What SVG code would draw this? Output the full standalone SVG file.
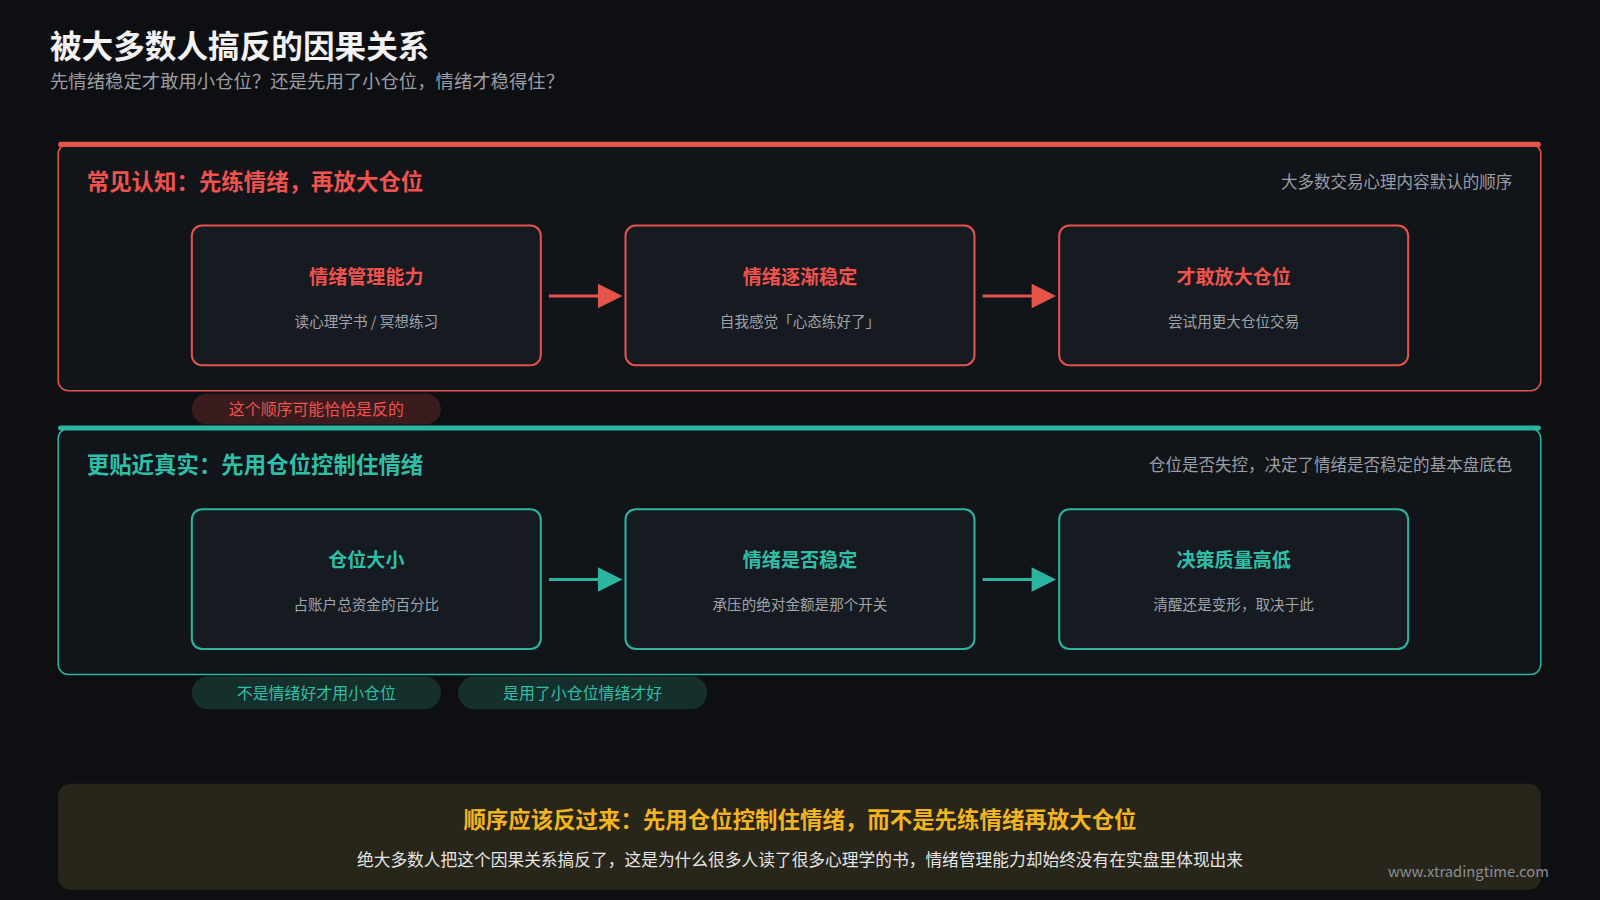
<svg xmlns="http://www.w3.org/2000/svg" width="1600" height="900" viewBox="0 0 1600 900">
<style>
text{font-family:"Noto Sans CJK SC","Noto Sans",sans-serif}
.box{fill:#161a21;stroke-width:2}
.r{stroke:#e5534b}.t{stroke:#2bb5a0}
.bt{font-size:18.7px;font-weight:bold;text-anchor:middle}
.bs{font-size:14.3px;fill:#a0a4ab;text-anchor:middle}
.rc{fill:#f0524d}.tc{fill:#2fbfa8}
.pill{font-size:15.6px;text-anchor:middle}
</style>
<rect width="1600" height="900" fill="#0e0f13"/>
<g transform="scale(1.0204)">
<text x="49" y="57" font-size="31" font-weight="bold" fill="#f2f2f2">被大多数人搞反的因果关系</text>
<text x="49" y="86" font-size="18" fill="#9a9ea5">先情绪稳定才敢用小仓位？还是先用了小仓位，情绪才稳得住？</text>

<g id="panel-red">
<rect x="57" y="141" width="1453" height="242" rx="10" fill="#111419" stroke="#e5534b" stroke-width="1.5"/>
<rect x="57" y="139" width="1453" height="5" rx="2" fill="#e5534b"/>
<text x="85" y="186" font-size="22" font-weight="bold" class="rc">常见认知：先练情绪，再放大仓位</text>
<text x="1482" y="184" font-size="16.2" fill="#9a9ea5" text-anchor="end">大多数交易心理内容默认的顺序</text>
</g>
<g id="r1"><rect class="box r" x="188" y="221" width="342" height="137" rx="10"/><text class="bt rc" x="359" y="278">情绪管理能力</text><text class="bs" x="359" y="320">读心理学书 / 冥想练习</text></g>
<g id="r2"><rect class="box r" x="613" y="221" width="342" height="137" rx="10"/><text class="bt rc" x="784" y="278">情绪逐渐稳定</text><text class="bs" x="784" y="320">自我感觉「心态练好了」</text></g>
<g id="r3"><rect class="box r" x="1038" y="221" width="342" height="137" rx="10"/><text class="bt rc" x="1209" y="278">才敢放大仓位</text><text class="bs" x="1209" y="320">尝试用更大仓位交易</text></g>
<g id="pill-r"><rect x="188" y="386" width="244" height="30" rx="15" fill="#3a1c1e"/><text x="310" y="407" class="pill rc">这个顺序可能恰恰是反的</text></g>

<g id="panel-teal">
<rect x="57" y="420" width="1453" height="241" rx="10" fill="#111419" stroke="#2bb5a0" stroke-width="1.5"/>
<rect x="57" y="417" width="1453" height="5" rx="2" fill="#2bb5a0"/>
<text x="85" y="464" font-size="22" font-weight="bold" class="tc">更贴近真实：先用仓位控制住情绪</text>
<text x="1482" y="462" font-size="16.2" fill="#9a9ea5" text-anchor="end">仓位是否失控，决定了情绪是否稳定的基本盘底色</text>
</g>
<g id="t1"><rect class="box t" x="188" y="499" width="342" height="137" rx="10"/><text class="bt tc" x="359" y="556">仓位大小</text><text class="bs" x="359" y="598">占账户总资金的百分比</text></g>
<g id="t2"><rect class="box t" x="613" y="499" width="342" height="137" rx="10"/><text class="bt tc" x="784" y="556">情绪是否稳定</text><text class="bs" x="784" y="598">承压的绝对金额是那个开关</text></g>
<g id="t3"><rect class="box t" x="1038" y="499" width="342" height="137" rx="10"/><text class="bt tc" x="1209" y="556">决策质量高低</text><text class="bs" x="1209" y="598">清醒还是变形，取决于此</text></g>
<g id="pill-t1"><rect x="188" y="663" width="244" height="32" rx="16" fill="#15302c"/><text x="310" y="685" class="pill tc">不是情绪好才用小仓位</text></g>
<g id="pill-t2"><rect x="449" y="663" width="244" height="32" rx="16" fill="#15302c"/><text x="571" y="685" class="pill tc">是用了小仓位情绪才好</text></g>

<g id="connectors" stroke-width="3">
<line x1="538" y1="290" x2="590" y2="290" stroke="#e5534b"/><path d="M586,278L610,290L586,302z" fill="#e5534b"/>
<line x1="963" y1="290" x2="1015" y2="290" stroke="#e5534b"/><path d="M1011,278L1035,290L1011,302z" fill="#e5534b"/>
<line x1="538" y1="568" x2="590" y2="568" stroke="#2bb5a0"/><path d="M586,556L610,568L586,580z" fill="#2bb5a0"/>
<line x1="963" y1="568" x2="1015" y2="568" stroke="#2bb5a0"/><path d="M1011,556L1035,568L1011,580z" fill="#2bb5a0"/>
</g>

<g id="summary">
<rect x="57" y="768" width="1453" height="104" rx="12" fill="#28251a"/>
<text x="784" y="811" font-size="22" font-weight="bold" fill="#f2b51f" text-anchor="middle">顺序应该反过来：先用仓位控制住情绪，而不是先练情绪再放大仓位</text>
<text x="784" y="849" font-size="16.4" fill="#e6e6e6" text-anchor="middle">绝大多数人把这个因果关系搞反了，这是为什么很多人读了很多心理学的书，情绪管理能力却始终没有在实盘里体现出来</text>
</g>
<text x="1518" y="859" font-size="14.5" fill="#8a8e95" text-anchor="end">www.xtradingtime.com</text>
</g>
</svg>
